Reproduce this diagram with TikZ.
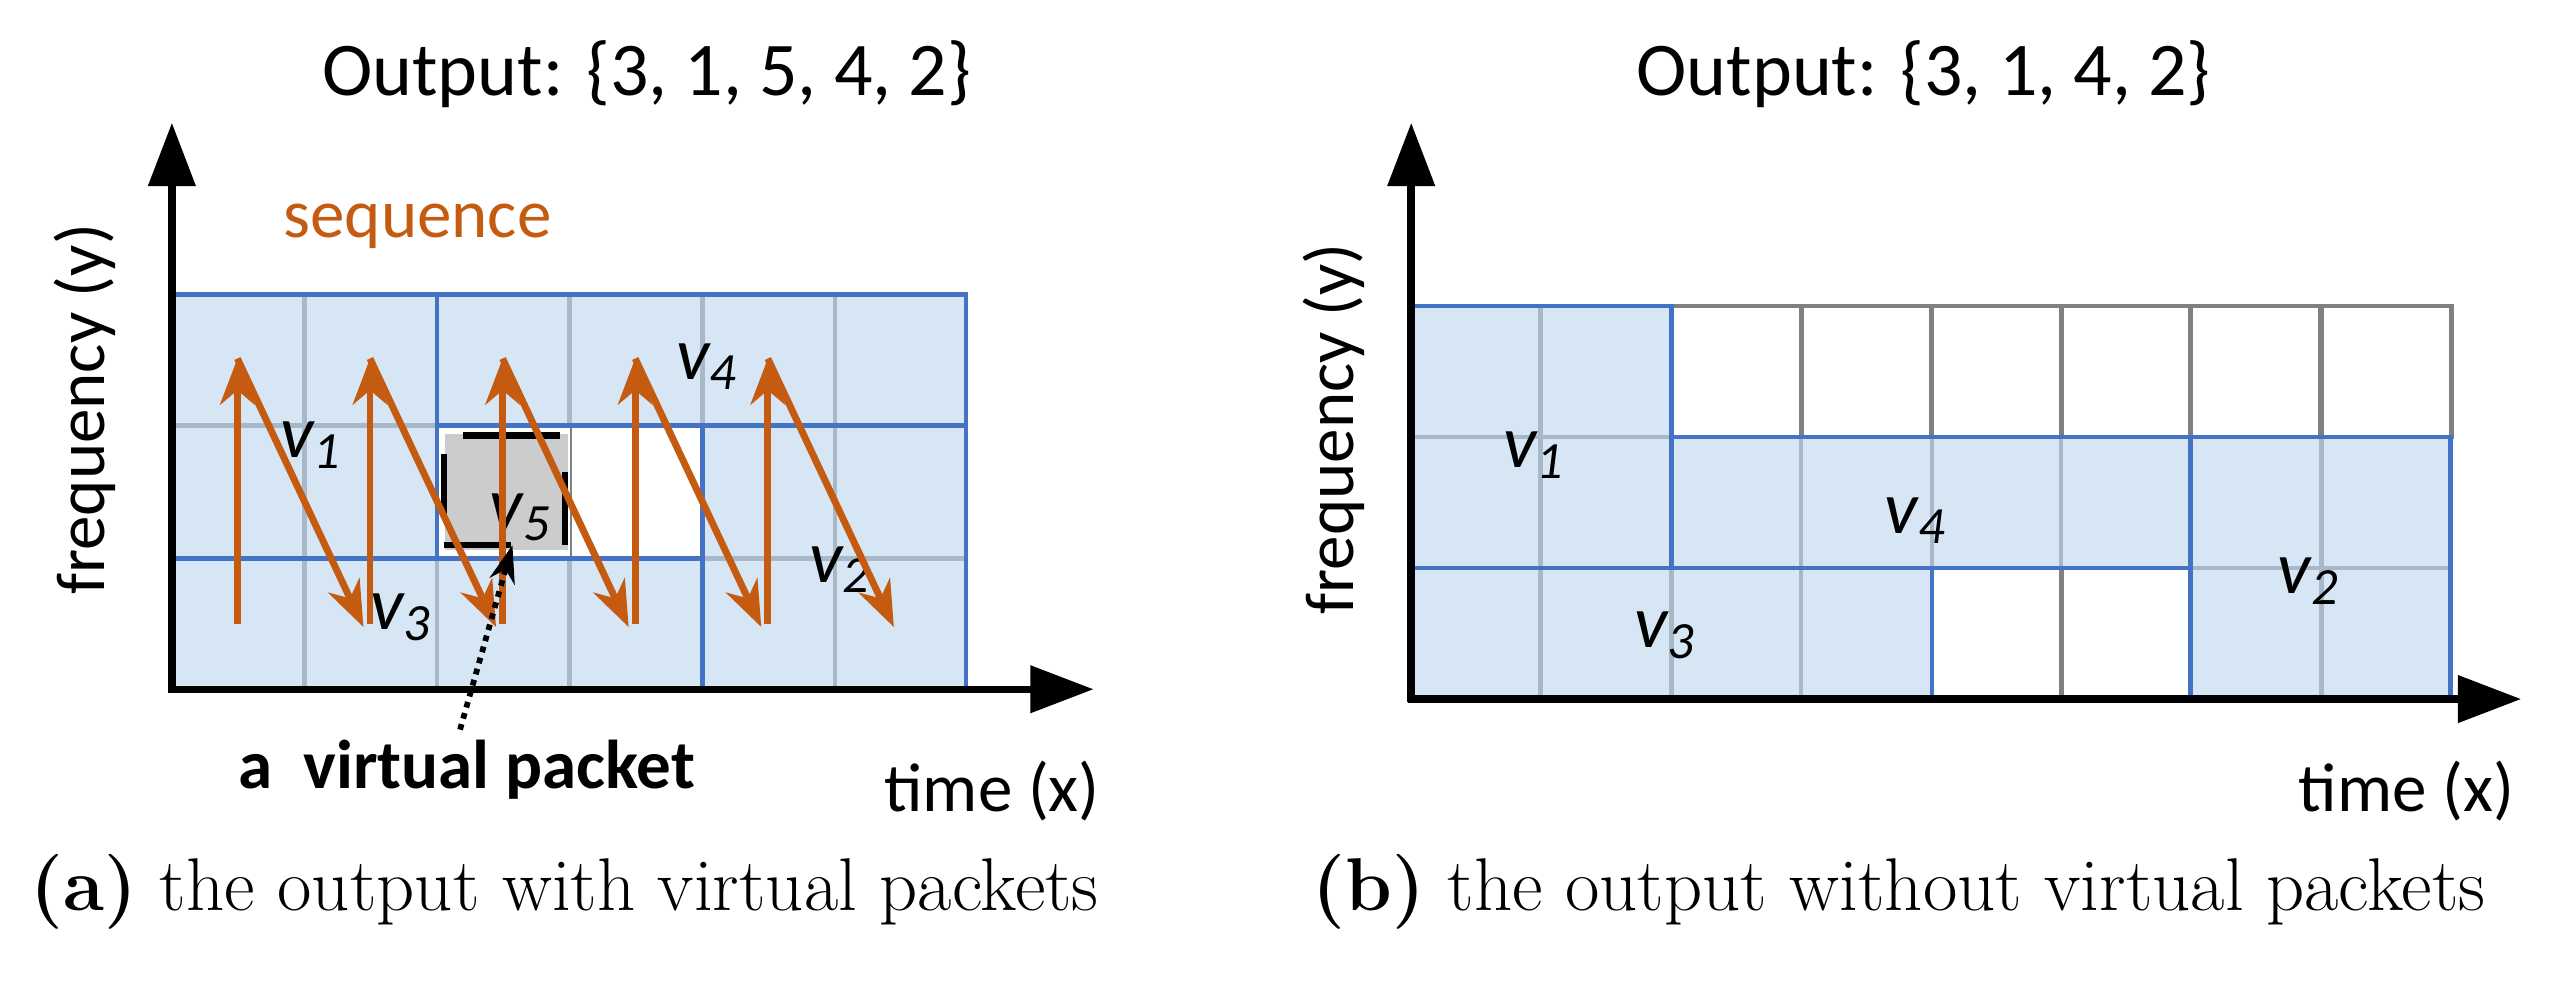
\documentclass[tikz,border=0pt]{standalone}
\usepackage{fontspec}
\usetikzlibrary{arrows.meta, positioning}
\newfontfamily\carl{Carlito}
\definecolor{cellblue}{RGB}{214,230,244}
\definecolor{edgeblue}{RGB}{68,114,196}
\definecolor{gridgray}{RGB}{169,184,200}
\definecolor{darkgray}{RGB}{128,128,128}
\definecolor{seqorange}{RGB}{197,90,17}
\tikzset{>={Stealth[length=16pt, width=12pt, inset=5pt]}}
\tikzset{blk/.style = {draw=edgeblue, line width=1.6pt}}
\tikzset{thin-grid/.style = {draw=gridgray, line width=1.6pt}}
\tikzset{empty/.style = {draw=darkgray, line width=1.6pt, fill=white}}
\tikzset{axis/.style = {line width=2.6pt, -{Triangle[length=22pt, width=16pt]}}}
\tikzset{lbl/.style = {font=\carl\fontsize{26}{30}\selectfont\itshape, inner sep=0pt}}
\tikzset{txt/.style = {font=\carl\fontsize{24}{28}\selectfont}}
\tikzset{capt/.style = {font=\fontsize{26}{30}\selectfont}}

\begin{document}
\begin{tikzpicture}[x=0.02cm, y=-0.02cm]
  \useasboundingbox (0,0) rectangle (1568,600);
  % (a) with virtual packets
  \fill[cellblue] (105,180) rectangle (590,421);
  \foreach \x in {186,267,348,429,510} \draw[thin-grid] (\x,180) -- (\x,421);
  \foreach \y in {260,341} \draw[thin-grid] (105,\y) -- (590,\y);
  \draw[empty] (348,260) rectangle (429,341);
  \fill[white] (267,260) rectangle (348,341);
  \fill[gray!40] (272,265) rectangle (347,336);
  \draw[line width=2.2pt] (283,266) -- (342,266) (271,277) -- (271,316)
    (345,288) -- (345,333) (271,333) -- (312,333);
  \draw[blk] (105,180) rectangle (267,341);
  \draw[blk] (267,180) rectangle (590,260);
  \draw[blk] (105,341) rectangle (429,421);
  \draw[blk] (429,260) rectangle (590,421);

  \node[lbl] (v1) at (190,272) {v\textsubscript{1}};
  \node[lbl] (v4) at (432,224) {v\textsubscript{4}};
  \node[lbl] (v5) at (318,316) {v\textsubscript{5}};
  \node[lbl] (v3) at (245,377) {v\textsubscript{3}};
  \node[lbl] (v2) at (513,348) {v\textsubscript{2}};

  \foreach \c in {0,...,4}
  {
    \coordinate (b\c) at (145+81*\c,381);
    \coordinate (t\c) at (145+81*\c,219);
    \coordinate (e\c) at (222+81*\c,383);
    \draw[seqorange, line width=2.4pt, ->] (b\c) -- (t\c);
    \draw[seqorange, line width=2.4pt, ->] (t\c) -- (e\c);
  }

  \draw[axis] (105,423) -- (105,75);
  \draw[axis] (103,421) -- (668,421);
  \node[txt, scale=1.1] (outa) at (395,45) {Output: \{3, 1, 5, 4, 2\}};
  \node[txt, text=seqorange] (seq) at (255,138) {sequence};
  \node[txt, rotate=90] (fya) at (52,250) {frequency (y)};
  \node[txt] (txa) at (606,483) {time (x)};
  \node[txt, font=\carl\bfseries\fontsize{24}{28}\selectfont] (vp) at (285,470) {a\ \ virtual packet};
  \coordinate (vptip) at (313,333);
  \draw[line width=2pt, dotted, ->, >={Stealth[length=13pt, width=9pt]}] (vp.north -| 281,0) -- (vptip);
  \node[capt] (capa) at (345,545) {\textbf{(a)} the output with virtual packets};

  % (b) without virtual packets
  \fill[cellblue] (862,187) rectangle (1021,347);
  \fill[cellblue] (1021,267) rectangle (1497,347);
  \fill[cellblue] (862,347) rectangle (1180,427);
  \fill[cellblue] (1338,267) rectangle (1497,427);
  \foreach \x in {941,1021,1100,1180,1259,1338,1418} \draw[thin-grid] (\x,187) -- (\x,427);
  \foreach \y in {267,347} \draw[thin-grid] (862,\y) -- (1497,\y);
  \foreach \x in {1021,1100,1180,1259,1338,1418}
    \draw[empty, fill=none] (\x,187) rectangle ++(79.4,80);
  \foreach \x in {1180,1259}
    \draw[empty, fill=none] (\x,347) rectangle ++(79.4,80);
  \draw[blk] (862,187) rectangle (1021,347);
  \draw[blk] (1021,267) rectangle (1338,347);
  \draw[blk] (862,347) rectangle (1180,427);
  \draw[blk] (1338,267) rectangle (1497,427);

  \node[lbl] (w1) at (937,278) {v\textsubscript{1}};
  \node[lbl] (w4) at (1170,318) {v\textsubscript{4}};
  \node[lbl] (w3) at (1017,388) {v\textsubscript{3}};
  \node[lbl] (w2) at (1410,355) {v\textsubscript{2}};

  \draw[axis] (862,429) -- (862,75);
  \draw[axis] (860,427) -- (1540,427);
  \node[txt, scale=1.1] (outb) at (1175,45) {Output: \{3, 1, 4, 2\}};
  \node[txt, rotate=90] (fyb) at (815,262) {frequency (y)};
  \node[txt] (txb) at (1470,483) {time (x)};
  \node[capt] (capb) at (1160,545) {\textbf{(b)} the output without virtual packets};
\end{tikzpicture}
\end{document}
